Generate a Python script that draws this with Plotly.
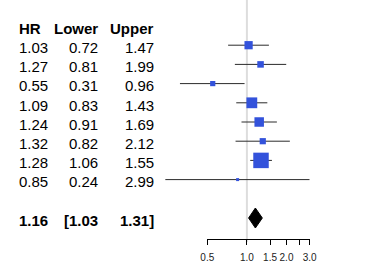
import math
import plotly.graph_objects as go

# ---- data ----
headers = ["HR", "Lower", "Upper"]
hr = [1.03, 1.27, 0.55, 1.09, 1.24, 1.32, 1.28, 0.85]
lower = [0.72, 0.81, 0.31, 0.83, 0.91, 0.82, 1.06, 0.24]
upper = [1.47, 1.99, 0.96, 1.43, 1.69, 2.12, 1.55, 2.99]
summary_hr = 1.16
summary_lower = 1.03
summary_upper = 1.31
tick_vals = [0.5, 1.0, 1.5, 2.0, 2.5, 3.0]
tick_text = ["0.5", "1.0", "1.5", "2.0", "", "3.0"]
ref_value = 1.0

# ---- layout constants (pixels) ----
W, H = 376, 269
ROW0_PX, ROW_PX = 45.2, 19.2          # first row centre, row spacing
X1_PX, DECADE_PX = 246.9, 131.6       # pixel of x=1 and pixels per decade
AXIS_PX = 238.5
REF_BOTTOM_PX = 242
FONT = "Liberation Sans, Arial, sans-serif"
FS = 15
BLUE = "#3352DB"
LINE = "#2a2a2a"
TEXT_SHIFT = -2.3

n = len(hr)
rows = list(range(n))
summary_row = n + 1
header_row = -1

ymin = -ROW0_PX / ROW_PX
ymax = (H - ROW0_PX) / ROW_PX
xmin = -X1_PX / DECADE_PX
xmax = (W - X1_PX) / DECADE_PX

fig = go.Figure()

# CI lines
lx, ly = [], []
for r, lo, up in zip(rows, lower, upper):
    lx += [lo, up, None]
    ly += [r, r, None]
fig.add_trace(go.Scatter(x=lx, y=ly, mode="lines",
                         line=dict(color=LINE, width=1),
                         hoverinfo="skip", showlegend=False))

# boxes, size ~ 1/SE
sizes = []
for lo, up in zip(lower, upper):
    se = (math.log(up) - math.log(lo)) / 3.92
    sizes.append(max(3, 1.5 / se))
fig.add_trace(go.Scatter(x=hr, y=rows, mode="markers",
                         marker=dict(symbol="square", size=sizes, color=BLUE,
                                     opacity=1, line=dict(width=0)),
                         showlegend=False))

# summary diamond
half_h = 10 / ROW_PX
fig.add_trace(go.Scatter(
    x=[summary_lower, summary_hr, summary_upper, summary_hr, summary_lower],
    y=[summary_row, summary_row - half_h, summary_row, summary_row + half_h, summary_row],
    mode="lines", fill="toself", fillcolor="black",
    line=dict(color="black", width=1), showlegend=False))

# invisible trace for the bottom axis
fig.add_trace(go.Scatter(x=[1], y=[summary_row], xaxis="x2", yaxis="y",
                         mode="markers", marker=dict(opacity=0),
                         showlegend=False, hoverinfo="skip"))

# reference line
fig.add_shape(type="line", xref="x", yref="paper",
              x0=ref_value, x1=ref_value, y0=1, y1=(H - REF_BOTTOM_PX) / H,
              line=dict(color="#DDDDDD", width=2), layer="below")

# text columns
col_x = [(16.7, "left"), (100, "right"), (155.7, "right")]
def add_text(txt, colidx, row, bold=False):
    x, anchor = col_x[colidx]
    fig.add_annotation(x=x / W, y=row, xref="paper", yref="y", text=("<b>%s</b>" % txt) if bold else txt,
                       xanchor=anchor, yanchor="middle", showarrow=False, yshift=TEXT_SHIFT,
                       font=dict(family=FONT, size=FS, color="black"))

for i, h in enumerate(headers):
    add_text(h, i, header_row, bold=True)
for r, a, b, c in zip(rows, hr, lower, upper):
    add_text("%.2f" % a, 0, r)
    add_text("%.2f" % b, 1, r)
    add_text("%.2f" % c, 2, r)
add_text("%.2f" % summary_hr, 0, summary_row, bold=True)
add_text("[%.2f" % summary_lower, 1, summary_row, bold=True)
add_text("%.2f]" % summary_upper, 2, summary_row, bold=True)

fig.update_layout(
    width=W, height=H, margin=dict(l=0, r=0, t=0, b=0, autoexpand=False),
    paper_bgcolor="white", plot_bgcolor="rgba(0,0,0,0)",
    showlegend=False,
    xaxis=dict(type="log", range=[xmin, xmax], visible=False, fixedrange=True),
    yaxis=dict(range=[ymax, ymin], visible=False, fixedrange=True),
    xaxis2=dict(type="log", range=[math.log10(tick_vals[0]), math.log10(tick_vals[-1])],
                domain=[(X1_PX + DECADE_PX * math.log10(tick_vals[0])) / W,
                        (X1_PX + DECADE_PX * math.log10(tick_vals[-1])) / W],
                anchor="free", position=(H - AXIS_PX) / H,
                showline=True, linecolor="black", linewidth=1,
                ticks="outside", ticklen=5, tickcolor="black", tickwidth=1,
                tickvals=tick_vals, ticktext=tick_text, tickangle=0,
                ticklabelstandoff=4,
                tickfont=dict(family=FONT, size=10, color="#222222"),
                showgrid=False, zeroline=False, fixedrange=True),
)

fig.write_html("out.html", config={"displayModeBar": False, "staticPlot": True},
               post_script="document.body.style.margin='0';document.body.style.padding='0';")
